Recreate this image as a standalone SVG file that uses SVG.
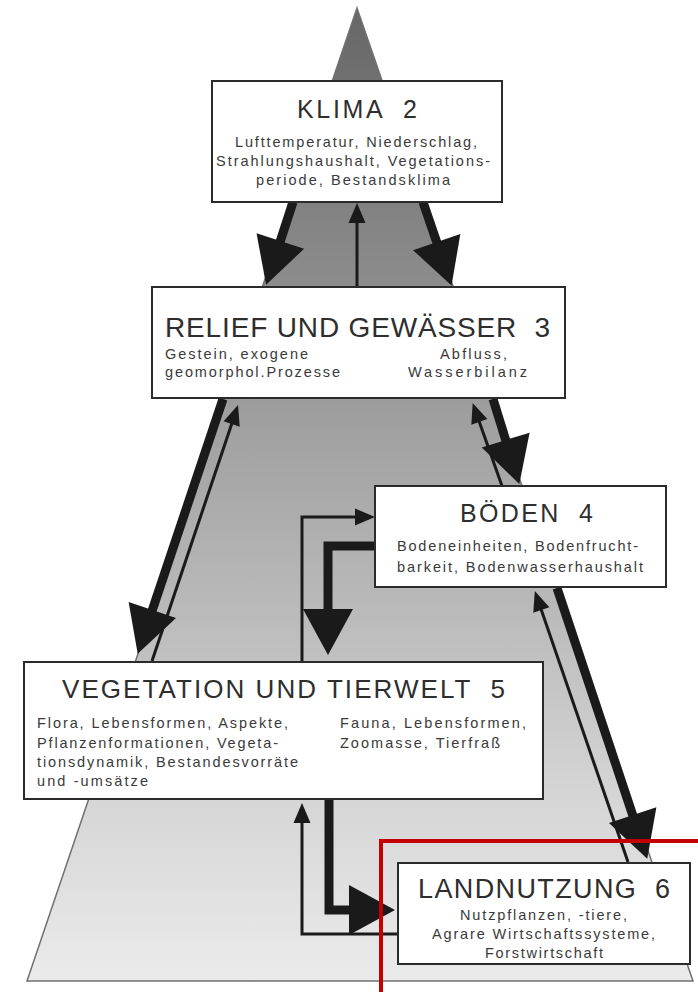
<svg xmlns="http://www.w3.org/2000/svg" width="698" height="992" viewBox="0 0 698 992">
<defs>
<linearGradient id="pyrGrad" gradientUnits="userSpaceOnUse" x1="0" y1="8" x2="0" y2="981">
<stop offset="0" stop-color="#666666"/>
<stop offset="0.25" stop-color="#888888"/>
<stop offset="0.45" stop-color="#a3a3a3"/>
<stop offset="0.62" stop-color="#bababa"/>
<stop offset="0.8" stop-color="#d4d4d4"/>
<stop offset="1" stop-color="#ebebeb"/>
</linearGradient>
<marker id="ahThick" markerUnits="userSpaceOnUse" markerWidth="46" markerHeight="50" refX="1" refY="25" orient="auto" overflow="visible">
<path d="M0,0 L46,25 L0,50 Z" fill="#1a1a1a"/>
</marker>
<marker id="ahThin" markerUnits="userSpaceOnUse" markerWidth="20" markerHeight="17" refX="1" refY="8.5" orient="auto" overflow="visible">
<path d="M0,0 L20,8.5 L0,17 Z" fill="#1a1a1a"/>
</marker>
<style>
.box{fill:#fff;stroke:#2b2b2b;stroke-width:2}
.title{font-family:"Liberation Sans",Arial,sans-serif;fill:#2e2e2e}
.sub{font-family:"Liberation Sans",Arial,sans-serif;font-size:14.5px;fill:#3a3a3a}
.thick{fill:none;stroke:#1a1a1a;stroke-width:9;stroke-linejoin:miter;marker-end:url(#ahThick)}
.thin{fill:none;stroke:#1a1a1a;stroke-width:3;stroke-linejoin:miter;marker-end:url(#ahThin)}
</style>
</defs>
<rect width="698" height="992" fill="#ffffff"/>
<g id="pyramid">
<polygon points="357,8 27,981 693,981" fill="url(#pyrGrad)" stroke="#707070" stroke-width="1.5"/>
</g>
<g id="connectors">
<line class="thick" x1="293" y1="202" x2="280" y2="242"/>
<line class="thick" x1="423" y1="202" x2="437" y2="243"/>
<line class="thin" x1="357" y1="287" x2="357" y2="222"/>
<line class="thick" x1="223" y1="399" x2="152" y2="611"/>
<line class="thin" x1="152" y1="661" x2="232" y2="423"/>
<line class="thick" x1="493" y1="399" x2="506" y2="441"/>
<line class="thin" x1="502" y1="486" x2="479" y2="421"/>
<line class="thick" x1="557" y1="588" x2="633" y2="816"/>
<line class="thin" x1="628" y1="862" x2="541" y2="609"/>
<polyline class="thick" points="375,546 328,546 328,610"/>
<polyline class="thin" points="302,662 302,517 356,517"/>
<polyline class="thick" points="329,800 329,910 350,910"/>
<polyline class="thin" points="398,934 302,934 302,822"/>
</g>
<g id="klima">
<rect class="box" x="212" y="81" width="290" height="121"/>
<text class="title" x="297" y="118" font-size="25" textLength="120" lengthAdjust="spacing" xml:space="preserve">KLIMA  2</text>
<text class="sub" x="235" y="147" textLength="242" lengthAdjust="spacing">Lufttemperatur, Niederschlag,</text>
<text class="sub" x="216" y="166" textLength="274" lengthAdjust="spacing">Strahlungshaushalt, Vegetations-</text>
<text class="sub" x="256" y="185" textLength="194" lengthAdjust="spacing">periode, Bestandsklima</text>
</g>
<g id="relief">
<rect class="box" x="152" y="287" width="413" height="111"/>
<text class="title" x="165" y="337" font-size="28" textLength="385" lengthAdjust="spacing" xml:space="preserve">RELIEF UND GEWÄSSER  3</text>
<text class="sub" x="165" y="359" textLength="143" lengthAdjust="spacing">Gestein, exogene</text>
<text class="sub" x="165" y="377" textLength="175" lengthAdjust="spacing">geomorphol.Prozesse</text>
<text class="sub" x="440" y="359" textLength="67" lengthAdjust="spacing">Abfluss,</text>
<text class="sub" x="408" y="377" textLength="119" lengthAdjust="spacing">Wasserbilanz</text>
</g>
<g id="boeden">
<rect class="box" x="375" y="486" width="291" height="101"/>
<text class="title" x="460" y="522" font-size="25" textLength="133" lengthAdjust="spacing" xml:space="preserve">BÖDEN  4</text>
<text class="sub" x="397" y="551" textLength="241" lengthAdjust="spacing">Bodeneinheiten, Bodenfrucht-</text>
<text class="sub" x="397" y="572" textLength="246" lengthAdjust="spacing">barkeit, Bodenwasserhaushalt</text>
</g>
<g id="vegetation">
<rect class="box" x="24" y="662" width="519" height="137"/>
<text class="title" x="62" y="698" font-size="26" textLength="443" lengthAdjust="spacing" xml:space="preserve">VEGETATION UND TIERWELT  5</text>
<text class="sub" x="37" y="728" textLength="251" lengthAdjust="spacing">Flora, Lebensformen, Aspekte,</text>
<text class="sub" x="37" y="748" textLength="241" lengthAdjust="spacing">Pflanzenformationen, Vegeta-</text>
<text class="sub" x="37" y="767" textLength="261" lengthAdjust="spacing">tionsdynamik, Bestandesvorräte</text>
<text class="sub" x="37" y="786" textLength="111" lengthAdjust="spacing">und -umsätze</text>
<text class="sub" x="340" y="728" textLength="186" lengthAdjust="spacing">Fauna, Lebensformen,</text>
<text class="sub" x="340" y="748" textLength="160" lengthAdjust="spacing">Zoomasse, Tierfraß</text>
</g>
<g id="landnutzung">
<rect class="box" x="398" y="863" width="292" height="101"/>
<text class="title" x="418" y="898" font-size="27" textLength="252" lengthAdjust="spacing" xml:space="preserve">LANDNUTZUNG  6</text>
<text class="sub" x="460" y="920" textLength="167" lengthAdjust="spacing">Nutzpflanzen, -tiere,</text>
<text class="sub" x="432" y="939" textLength="223" lengthAdjust="spacing">Agrare Wirtschaftssysteme,</text>
<text class="sub" x="485" y="958" textLength="118" lengthAdjust="spacing">Forstwirtschaft</text>
</g>
<g id="highlight">
<path d="M381,992 V841 H698" fill="none" stroke="#c40000" stroke-width="4"/>
</g>
</svg>
